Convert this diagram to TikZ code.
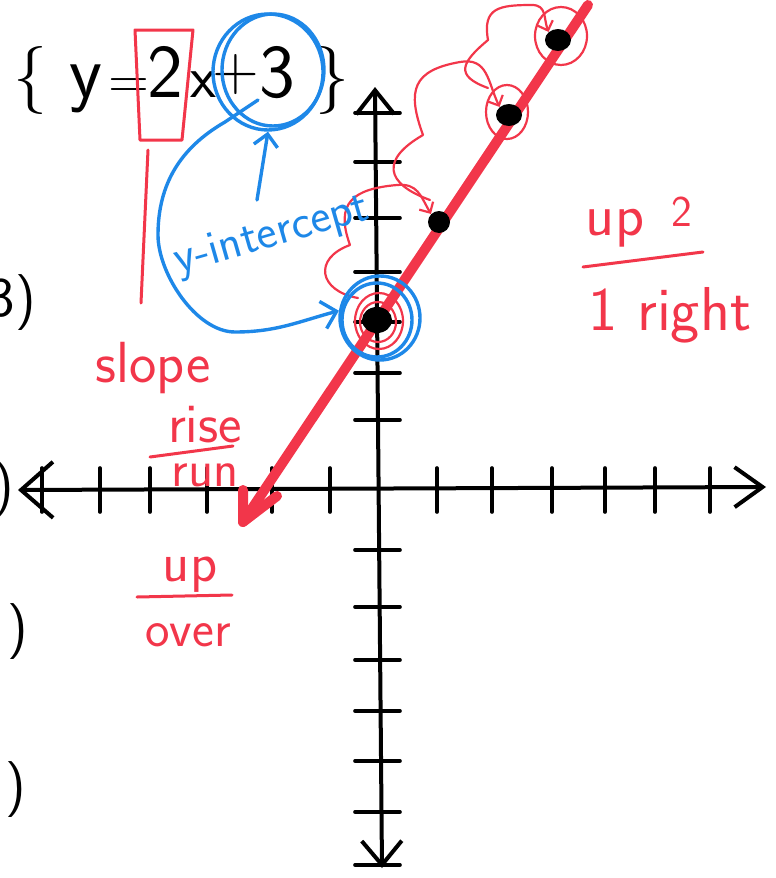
\documentclass[tikz,border=0pt]{standalone}
\usepackage{fontspec}
\usepackage{tikz}
\usetikzlibrary{arrows.meta,shapes.geometric}
\definecolor{penRed}{HTML}{F2364A}
\definecolor{penBlue}{HTML}{1E88E8}
\tikzset{
  hand/.style={font=\sffamily\fontsize{#1}{#1}\selectfont, inner sep=0pt},
  axisline/.style={line width=2pt, line cap=round, line join=round},
  axistick/.style={line width=1.8pt, line cap=round},
  redpen/.style={draw=penRed, line width=1.1pt, line cap=round, line join=round},
  bluepen/.style={draw=penBlue, line width=1.7pt, line cap=round, line join=round},
  inkdot/.style={ellipse, fill=black, inner sep=0pt},
}
\begin{document}
\begin{tikzpicture}[x=0.5pt, y=0.5pt]
        \useasboundingbox (0,0) rectangle (776,-878);
        \clip (0,0) rectangle (776,-878);
        % equation
        \node[hand=34, anchor=base] (eqL) at (30,-97) {\{};
        \node[hand=38, anchor=base] (eqy) at (86,-97) {y};
        \node[hand=28, anchor=base] (eqeq) at (129,-98) {=};
        \node[hand=38, anchor=base] (eqtwo) at (165,-97) {2};
        \node[hand=30, anchor=base] (eqx) at (203,-97) {x};
        \node[hand=32, anchor=base] (eqplus) at (236,-90) {+};
        \node[hand=38, anchor=base] (eqthree) at (277,-97) {3};
        \node[hand=34, anchor=base] (eqR) at (332,-97) {\}};
        % question numbers at the edge
        \node[hand=28, anchor=east] (q3) at (36,-303) {3)};
        \node[hand=28, anchor=east] (q4) at (14,-490) {)};
        \node[hand=28, anchor=east] (q5) at (28,-632) {)};
        \node[hand=28, anchor=east] (q6) at (26,-790) {)};
        % axes
        \coordinate (xl) at (18,-490);
        \coordinate (xr) at (766,-487);
        \coordinate (yt) at (375,-87);
        \coordinate (yb) at (382,-868);
        \draw[axisline, {Straight Barb[length=16pt,width=28pt]}-{Straight Barb[length=14pt,width=20pt]}] (xl) -- (xr);
        \draw[axisline, {Straight Barb[length=12pt,width=19pt]}-{Straight Barb[length=12pt,width=20pt]}] (yt) -- (yb);
        \foreach \tx in {42,100,150,207,272,330,437,492,552,605,655,710}
          \draw[axistick] (\tx,-468) -- (\tx,-512);
        \foreach \ty in {113,162,218,272,322,373,420,550,607,660,711,761,812,865}
          \draw[axistick] (355,-\ty) -- (400,-\ty);
        % the line y = 2x + 3
        \coordinate (ltop) at (588,-5);
        \coordinate (ltip) at (243,-522);
        \draw[penRed, line width=5pt, line cap=round] (ltop) -- (ltip);
        \draw[penRed, line width=5pt, line cap=round, line join=round] (243,-490) -- (ltip) -- (277,-496);
        \node[inkdot, minimum width=15pt, minimum height=13pt] (d0) at (377,-320) {};
        \node[inkdot, minimum width=11pt, minimum height=11pt] (d1) at (439,-222) {};
        \node[inkdot, minimum width=13pt, minimum height=11pt] (d2) at (509,-115) {};
        \node[inkdot, minimum width=13pt, minimum height=11pt] (d3) at (558,-40) {};
        % rise and run steps
        \draw[redpen] (378,-322) ellipse [x radius=18, y radius=20];
        \draw[redpen] (379,-321) ellipse [x radius=24, y radius=28];
        \draw[redpen] (507,-112) ellipse [x radius=21, y radius=27];
        \draw[redpen] (561,-36) ellipse [x radius=26, y radius=29];
        \draw[redpen, -{Straight Barb[length=4pt,width=8pt]}] (358,-298) to[out=170,in=200,looseness=1.9] (350,-245)
          to[out=110,in=185,looseness=1.5] (397,-185) to[out=5,in=120,looseness=1.2] (d1.north west);
        \draw[redpen, -{Straight Barb[length=4pt,width=8pt]}] (430,-200) to[out=160,in=210,looseness=1.9] (423,-135)
          to[out=110,in=190,looseness=1.5] (460,-62) to[out=10,in=115,looseness=1.2] (d2.north west);
        \draw[redpen, -{Straight Barb[length=4pt,width=8pt]}] (488,-88) to[out=160,in=220,looseness=1.9] (488,-40)
          to[out=100,in=180,looseness=1.5] (532,-5) to[out=0,in=110,looseness=1.2] (d3.north west);
        % slope
        \draw[redpen, line width=1.5pt] (135,-30) -- (193,-30) -- (182,-140) -- (140,-140) -- cycle;
        \coordinate (boxfoot) at (148,-150);
        \coordinate (slopetop) at (141,-303);
        \draw[redpen, line width=1.5pt] (boxfoot) -- (slopetop);
        \node[hand=29, text=penRed] (slopetxt) at (153,-368) {slope};
        \node[hand=28, text=penRed] (risetxt) at (205,-425) {rise};
        \draw[redpen, line width=1.5pt] (150,-457) -- (233,-446);
        \node[hand=26, text=penRed] (runtxt) at (205,-475) {run};
        \node[hand=28, text=penRed] (uptxt) at (190,-575) {up};
        \draw[redpen, line width=1.5pt] (137,-597) -- (232,-595);
        \node[hand=26, text=penRed] (overtxt) at (188,-635) {over};
        \node[hand=30, text=penRed] (upRtxt) at (615,-228) {up};
        \node[hand=22, text=penRed] (twoRtxt) at (682,-212) {2};
        \draw[redpen, line width=1.5pt] (583,-267) -- (703,-252);
        \node[hand=31, text=penRed, anchor=base] (rightRtxt) at (670,-330) {1 right};
        % y-intercept
        \node[draw=penBlue, line width=1.7pt, ellipse, minimum width=55pt, minimum height=58pt] (plusring) at (268,-72) {};
        \draw[bluepen] (273,-70) ellipse [x radius=51, y radius=56];
        \node[draw=penBlue, line width=1.7pt, ellipse, minimum width=40pt, minimum height=42pt] (ring0) at (380,-318) {};
        \draw[bluepen] (377,-320) ellipse [x radius=35, y radius=37];
        \node[hand=24, text=penBlue, rotate=16] (yinttxt) at (272,-236) {y-intercept};
        \coordinate (tail) at (257,-200);
        \coordinate (loopstart) at (258,-100);
        \draw[bluepen, -{Straight Barb[length=6pt,width=12pt]}] (tail) -- (plusring.south);
        \draw[bluepen, -{Straight Barb[length=7pt,width=14pt]}] (loopstart) -- (225,-122) to[out=210,in=90] (158,-235)
          to[out=270,in=180,looseness=0.8] (235,-332) to[out=0,in=195] (ring0.170);
      \end{tikzpicture}
\end{document}
